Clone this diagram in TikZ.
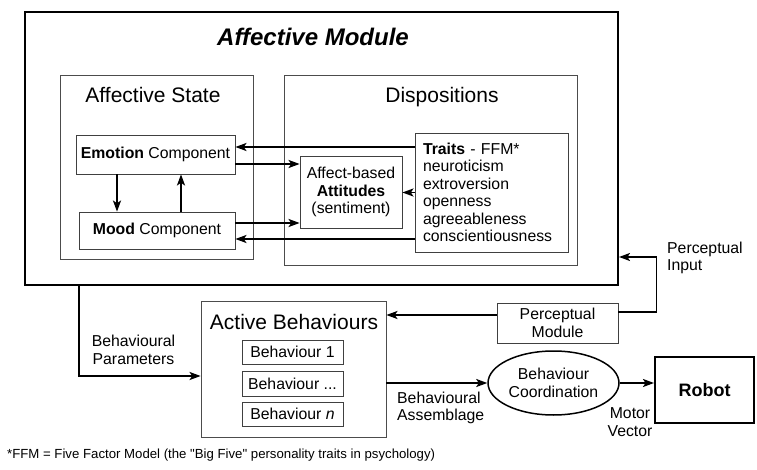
\documentclass[tikz,border=0pt]{standalone}
\usepackage{fontspec}
\setmainfont{Liberation Sans}[Ligatures=TeXOff]
\usetikzlibrary{arrows.meta,shapes.geometric}

\begin{document}
\begin{tikzpicture}[x=1pt, y=-1pt, every node/.style={align=center}]
\tikzset{
  framebox/.style={draw, line width=2pt, inner sep=0pt},
  panel/.style={draw=black!70, line width=0.8pt, inner sep=0pt},
  compbox/.style={draw=black!75, line width=0.8pt, inner sep=0pt, font=\fontsize{15.8}{17.5}\selectfont},
  heading/.style={font=\fontsize{21}{24}\selectfont},
  flowtext/.style={font=\fontsize{15.8}{17.5}\selectfont},
  flow/.style={line width=1.8pt, -{Stealth[length=11pt,width=8pt,inset=2.5pt]}}
}
\useasboundingbox (0,0) rectangle (757,470);

% affective module
\node[framebox, minimum width=593pt, minimum height=273pt] (affmod) at (321.5,148.5) {};
\node[font=\fontsize{24}{28}\selectfont\bfseries\itshape] (affmodtitle) at (313,37) {Affective Module};
\node[panel, minimum width=193pt, minimum height=184pt] (affstate) at (156.5,167) {};
\node[heading] (affstatetitle) at (153,95) {Affective State};
\node[panel, minimum width=293pt, minimum height=190pt] (disp) at (430.5,170) {};
\node[heading] (disptitle) at (442,97) {Dispositions};

\node[compbox, minimum width=159pt, minimum height=39pt] (emotion) at (155.5,154.5) {\textbf{Emotion} Component};
\node[compbox, minimum width=156pt, minimum height=37pt] (mood) at (157,230.5) {\textbf{Mood} Component};
\node[compbox, minimum width=102pt, minimum height=72pt] (attitudes) at (351,192) {Affect-based\\\textbf{Attitudes}\\(sentiment)};
\node[compbox, minimum width=153pt, minimum height=119pt, text width=137pt, align=left] (traits) at (491.5,192.5)
  {\textbf{Traits} - FFM*\\neuroticism\\extroversion\\openness\\agreeableness\\conscientiousness};

\coordinate (e1) at ([yshift=7.5pt]emotion.east);
\coordinate (e2) at ([yshift=-9.5pt]emotion.east);
\coordinate (m1) at ([yshift=7.5pt]mood.east);
\coordinate (m2) at ([yshift=-8.5pt]mood.east);
\coordinate (d1) at ([xshift=-38.5pt]emotion.south);
\coordinate (u1) at ([xshift=24pt]mood.north);

\draw[flow] (e1 -| traits.west) -- (e1);
\draw[flow] (e2) -- (e2 -| attitudes.west);
\draw[flow] (m1) -- (m1 -| attitudes.west);
\draw[flow] (m2 -| traits.west) -- (m2);
\draw[flow] (traits.west) -- (traits.west -| attitudes.east);
\draw[flow] (d1) -- (d1 |- mood.north);
\draw[flow] (u1) -- (u1 |- emotion.south);

% behaviour side
\node[panel, minimum width=185pt, minimum height=136pt] (active) at (293.5,369) {};
\node[heading] (activetitle) at (294,322) {Active Behaviours};
\node[compbox, minimum width=101pt, minimum height=24pt] (beh1) at (292.5,352) {Behaviour 1};
\node[compbox, minimum width=101pt, minimum height=25pt] (behdots) at (292.5,383.5) {Behaviour ...};
\node[compbox, minimum width=101pt, minimum height=24pt] (behn) at (292.5,414) {Behaviour \textit{n}};

\node[compbox, minimum width=121pt, minimum height=40pt] (percmod) at (557.5,323) {Perceptual\\Module};
\node[draw, line width=1.5pt, ellipse, minimum width=131pt, minimum height=64pt, inner sep=0pt, flowtext] (coord) at (553.5,383) {Behaviour\\Coordination};
\node[framebox, minimum width=99pt, minimum height=66pt, font=\fontsize{18}{22}\selectfont\bfseries] (robot) at (704.5,390) {Robot};

\node[flowtext] (parlabel) at (133.5,350) {Behavioural\\Parameters};
\node[flowtext, align=left, anchor=west, inner sep=0pt] (asmlabel) at (397,408) {Behavioural\\Assemblage};
\node[flowtext, align=left, anchor=west, inner sep=0pt] (perclabel) at (667,258) {Perceptual\\Input};
\node[flowtext] (motorlabel) at (630,422) {Motor\\Vector};

\coordinate (bp1) at ([xshift=-242.5pt]affmod.south);
\coordinate (bp2) at ([yshift=-7pt]active.west);
\coordinate (pm1) at ([yshift=8pt]percmod.west);
\coordinate (pm2) at ([yshift=11pt]percmod.east);
\coordinate (pi1) at ([yshift=-108.5pt]affmod.east);

\draw[flow] (bp1) |- (bp2);
\draw[flow] (pm1) -- (pm1 -| active.east);
\draw[flow] (pm2) -- ++(38,0) |- (pi1);
\draw[flow] (coord.west -| active.east) -- (coord.west);
\draw[flow] (coord.east) -- (coord.east -| robot.west);

\node[font=\fontsize{13.2}{16}\selectfont, anchor=west, inner sep=0pt] (footnote) at (7,455)
  {*FFM = Five Factor Model (the "Big Five" personality traits in psychology)};
\end{tikzpicture}
\end{document}
